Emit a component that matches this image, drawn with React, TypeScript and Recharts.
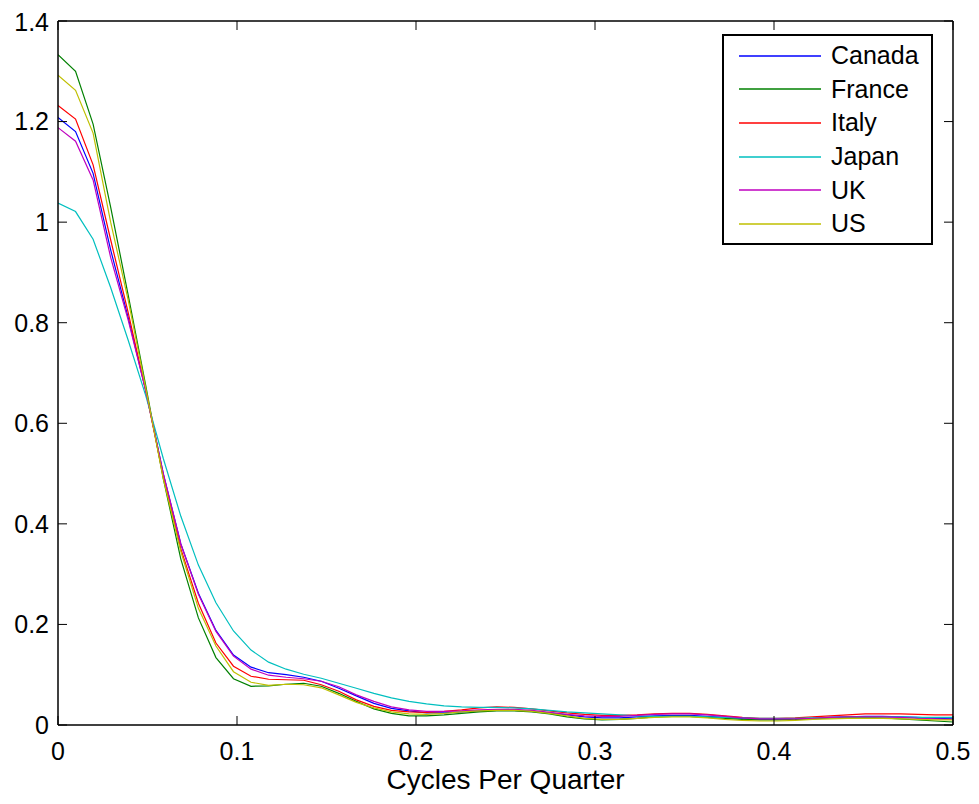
import { LineChart, Line, XAxis, YAxis, Legend } from "recharts";

// 52 frequencies, 0 .. 0.5 cycles per quarter
const freq = Array.from({ length: 52 }, (_, i) => (i * 0.5) / 51);

const canada = [
  1.208, 1.18, 1.097, 0.945, 0.81, 0.665, 0.5, 0.36, 0.262, 0.188, 0.139, 0.115, 0.104, 0.1, 0.095, 0.087, 0.073,
  0.058, 0.043, 0.033, 0.028, 0.024, 0.024, 0.026, 0.028, 0.029, 0.029, 0.027, 0.024, 0.02, 0.016, 0.014, 0.014,
  0.016, 0.018, 0.019, 0.019, 0.017, 0.015, 0.013, 0.011, 0.011, 0.012, 0.013, 0.015, 0.016, 0.017, 0.017, 0.016,
  0.015, 0.013, 0.012,
];
const france = [
  1.333, 1.3, 1.195, 1.03, 0.855, 0.675, 0.49, 0.33, 0.213, 0.134, 0.092, 0.077, 0.078, 0.081, 0.083, 0.077, 0.063,
  0.047, 0.032, 0.023, 0.018, 0.018, 0.02, 0.023, 0.026, 0.028, 0.028, 0.026, 0.022, 0.016, 0.012, 0.01, 0.011,
  0.013, 0.016, 0.017, 0.017, 0.015, 0.013, 0.011, 0.01, 0.01, 0.011, 0.012, 0.014, 0.015, 0.015, 0.014, 0.012,
  0.01, 0.008, 0.006,
];
const italy = [
  1.232, 1.205, 1.114, 0.965, 0.82, 0.665, 0.495, 0.35, 0.242, 0.163, 0.117, 0.097, 0.091, 0.09, 0.089, 0.08, 0.067,
  0.05, 0.037, 0.029, 0.026, 0.025, 0.027, 0.03, 0.034, 0.036, 0.035, 0.032, 0.028, 0.024, 0.021, 0.019, 0.019,
  0.02, 0.022, 0.023, 0.023, 0.021, 0.018, 0.015, 0.013, 0.013, 0.014, 0.016, 0.018, 0.02, 0.022, 0.022, 0.022,
  0.021, 0.02, 0.02,
];
const japan = [
  1.038, 1.021, 0.966, 0.87, 0.765, 0.655, 0.53, 0.415, 0.318, 0.243, 0.187, 0.149, 0.125, 0.111, 0.101, 0.093,
  0.083, 0.073, 0.063, 0.054, 0.047, 0.042, 0.038, 0.036, 0.035, 0.035, 0.034, 0.032, 0.029, 0.026, 0.024, 0.022,
  0.02, 0.018, 0.017, 0.017, 0.017, 0.016, 0.015, 0.014, 0.013, 0.013, 0.013, 0.014, 0.015, 0.016, 0.016, 0.016,
  0.016, 0.015, 0.015, 0.015,
];
const uk = [
  1.188, 1.161, 1.084, 0.93, 0.805, 0.665, 0.5, 0.36, 0.26, 0.186, 0.137, 0.111, 0.099, 0.095, 0.092, 0.087, 0.076,
  0.06, 0.047, 0.036, 0.03, 0.027, 0.027, 0.028, 0.03, 0.031, 0.031, 0.029, 0.025, 0.021, 0.018, 0.017, 0.017,
  0.019, 0.021, 0.022, 0.022, 0.02, 0.017, 0.014, 0.012, 0.012, 0.012, 0.013, 0.015, 0.016, 0.016, 0.016, 0.015,
  0.013, 0.012, 0.011,
];
const us = [
  1.292, 1.262, 1.177, 1.0, 0.845, 0.67, 0.49, 0.345, 0.232, 0.157, 0.106, 0.085, 0.079, 0.081, 0.08, 0.074, 0.06,
  0.045, 0.034, 0.026, 0.022, 0.021, 0.023, 0.026, 0.028, 0.029, 0.029, 0.027, 0.023, 0.018, 0.013, 0.011, 0.011,
  0.013, 0.015, 0.016, 0.016, 0.014, 0.011, 0.009, 0.008, 0.008, 0.009, 0.011, 0.012, 0.013, 0.013, 0.013, 0.012,
  0.011, 0.01, 0.01,
];

const xTicks = [0, 0.1, 0.2, 0.3, 0.4, 0.5];
const yTicks = [0, 0.2, 0.4, 0.6, 0.8, 1, 1.2, 1.4];

const series = [
  { key: "Canada", values: canada, color: "#0000ff" },
  { key: "France", values: france, color: "#008000" },
  { key: "Italy", values: italy, color: "#ff0000" },
  { key: "Japan", values: japan, color: "#00bfbf" },
  { key: "UK", values: uk, color: "#bf00bf" },
  { key: "US", values: us, color: "#bfbf00" },
];

const data = freq.map((f, i) => {
  const row: Record<string, number> = { f };
  for (const s of series) row[s.key] = s.values[i];
  return row;
});

const FONT = '"Liberation Sans", Arial, sans-serif';
const boxLine = { stroke: "#000", strokeWidth: 1.5 };
const tickLine = { stroke: "#000", strokeWidth: 1 };

export default function App() {
  return (
    <LineChart
      width={963}
      height={788}
      data={data}
      margin={{ top: 12, right: 17, left: 0, bottom: 0 }}
      style={{ fontFamily: FONT, background: "#fff" }}
    >
      <XAxis
        dataKey="f"
        type="number"
        domain={[0, 0.5]}
        ticks={xTicks}
        allowDataOverflow
        height={71}
        tickSize={-9}
        tickMargin={26}
        axisLine={boxLine}
        tickLine={tickLine}
        tick={{ fill: "#000", fontSize: 25 }}
        label={{ value: "Cycles Per Quarter", position: "insideBottom", offset: 7, fill: "#000", fontSize: 28 }}
      />
      {/* top and right axes only close the box and carry inward ticks */}
      <XAxis
        xAxisId="top"
        dataKey="f"
        orientation="top"
        type="number"
        domain={[0, 0.5]}
        ticks={xTicks}
        allowDataOverflow
        height={1}
        tickSize={-9}
        tickFormatter={() => ""}
        axisLine={boxLine}
        tickLine={tickLine}
      />
      <YAxis
        type="number"
        domain={[0, 1.4]}
        ticks={yTicks}
        width={50}
        tickSize={-9}
        tickMargin={18}
        axisLine={boxLine}
        tickLine={tickLine}
        tick={{ fill: "#000", fontSize: 25 }}
      />
      <YAxis
        yAxisId="right"
        orientation="right"
        type="number"
        domain={[0, 1.4]}
        ticks={yTicks}
        width={1}
        tickSize={-9}
        tickFormatter={() => ""}
        axisLine={boxLine}
        tickLine={tickLine}
      />
      <Legend
        layout="vertical"
        align="center"
        verticalAlign="middle"
        wrapperStyle={{ left: 714, top: 26, width: 211, height: 211 }}
        content={() => (
          <div
            style={{
              width: 211,
              height: 211,
              boxSizing: "border-box",
              border: "2px solid #000",
              background: "#fff",
              paddingTop: 3,
              fontFamily: FONT,
            }}
          >
            {series.map((s) => (
              <div key={s.key} style={{ display: "flex", alignItems: "center", height: 33.6 }}>
                <svg width={82} height={4} style={{ marginLeft: 15, display: "block" }}>
                  <line x1={0} x2={82} y1={2} y2={2} stroke={s.color} strokeWidth={1.3} />
                </svg>
                <span style={{ marginLeft: 10, fontSize: 25, color: "#000", lineHeight: "33px" }}>{s.key}</span>
              </div>
            ))}
          </div>
        )}
      />
      {series.map((s) => (
        <Line
          key={s.key}
          dataKey={s.key}
          stroke={s.color}
          strokeWidth={1.2}
          dot={false}
          type="linear"
          isAnimationActive={false}
        />
      ))}
      <Line
        dataKey="Canada"
        xAxisId="top"
        yAxisId="right"
        stroke="none"
        dot={false}
        legendType="none"
        isAnimationActive={false}
      />
    </LineChart>
  );
}
